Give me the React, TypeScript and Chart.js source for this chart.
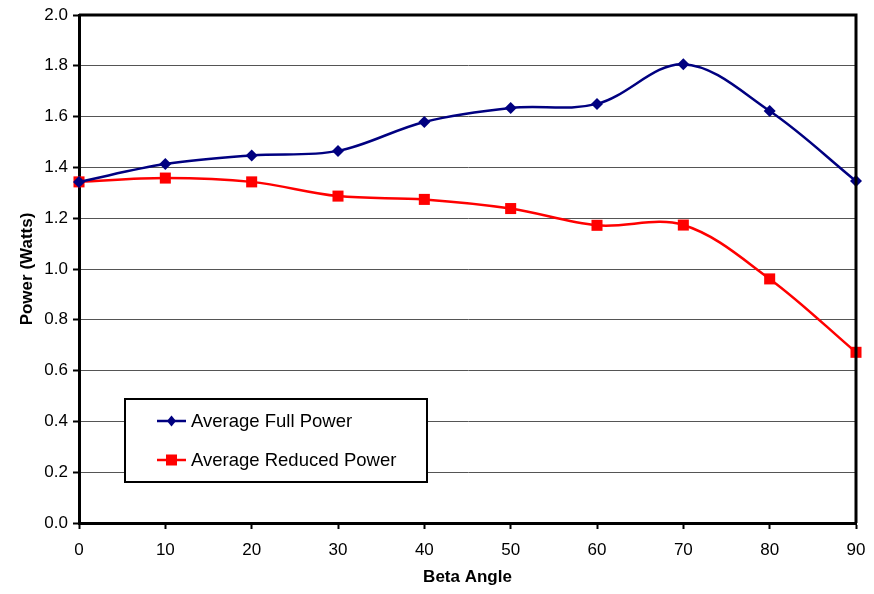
import React, { useEffect, useRef } from "react";
import { Chart, registerables } from "chart.js";

Chart.register(...registerables);

const betaAngles = [0, 10, 20, 30, 40, 50, 60, 70, 80, 90];
const fullPower = [1.343, 1.413, 1.447, 1.465, 1.579, 1.634, 1.65, 1.806, 1.622, 1.346];
const reducedPower = [1.343, 1.358, 1.343, 1.287, 1.274, 1.238, 1.172, 1.173, 0.961, 0.672];
const seriesNames = ["Average Full Power", "Average Reduced Power"];
const xTitle = "Beta Angle";
const yTitle = "Power (Watts)";

const FONT = "'Liberation Sans', Arial, sans-serif";

const decorPlugin = {
  id: "decor",
  afterDraw(chart: any) {
    const { ctx, chartArea } = chart;
    const { left, right, top, bottom } = chartArea;
    ctx.save();
    // top and right border
    ctx.strokeStyle = "#000";
    ctx.lineWidth = 3;
    ctx.beginPath();
    ctx.moveTo(left, top);
    ctx.lineTo(right, top);
    ctx.lineTo(right, bottom);
    ctx.stroke();
    // axis titles
    ctx.fillStyle = "#000";
    ctx.font = `bold 17px ${FONT}`;
    ctx.textAlign = "center";
    ctx.textBaseline = "middle";
    ctx.fillText(xTitle, (left + right) / 2, 577);
    ctx.save();
    ctx.translate(27, (top + bottom) / 2);
    ctx.rotate(-Math.PI / 2);
    ctx.fillText(yTitle, 0, 0);
    ctx.restore();
    // legend
    const bx = left + 46;
    const by = 399;
    const bw = 302;
    const bh = 83;
    ctx.fillStyle = "#fff";
    ctx.fillRect(bx, by, bw, bh);
    ctx.strokeStyle = "#000";
    ctx.lineWidth = 2;
    ctx.strokeRect(bx, by, bw, bh);
    const ds = chart.data.datasets;
    const rows = [by + 22, by + 61];
    ds.forEach((d: any, i: number) => {
      const y = rows[i];
      const x0 = bx + 32;
      const x1 = bx + 61;
      ctx.strokeStyle = d.borderColor;
      ctx.lineWidth = 2.5;
      ctx.beginPath();
      ctx.moveTo(x0, y);
      ctx.lineTo(x1, y);
      ctx.stroke();
      ctx.fillStyle = d.borderColor;
      const cx = (x0 + x1) / 2;
      if (d.pointStyle === "rectRot") {
        ctx.beginPath();
        ctx.moveTo(cx, y - 5.5);
        ctx.lineTo(cx + 4.5, y);
        ctx.lineTo(cx, y + 5.5);
        ctx.lineTo(cx - 4.5, y);
        ctx.closePath();
        ctx.fill();
      } else {
        ctx.fillRect(cx - 5.5, y - 5.5, 11, 11);
      }
      ctx.fillStyle = "#000";
      ctx.font = `18.5px ${FONT}`;
      ctx.textAlign = "left";
      ctx.textBaseline = "middle";
      ctx.fillText(d.label, x1 + 5, y + 1);
    });
    ctx.restore();
  },
};

export default function App() {
  const ref = useRef<HTMLCanvasElement>(null);
  useEffect(() => {
    const canvas = ref.current!;
    const chart = new Chart(canvas, {
      type: "line",
      data: {
        datasets: [
          {
            label: seriesNames[0],
            data: betaAngles.map((x, i) => ({ x, y: fullPower[i] })),
            borderColor: "#000080",
            backgroundColor: "#000080",
            pointStyle: "rectRot",
            pointRadius: 6,
            pointBorderWidth: 0,
            borderWidth: 2.5,
            tension: 0.35,
            clip: false as any,
          },
          {
            label: seriesNames[1],
            data: betaAngles.map((x, i) => ({ x, y: reducedPower[i] })),
            borderColor: "#FF0000",
            backgroundColor: "#FF0000",
            pointStyle: "rect",
            pointRadius: 7.8,
            pointBorderWidth: 0,
            borderWidth: 2.5,
            tension: 0.35,
            clip: false as any,
          },
        ],
      },
      options: {
        animation: false,
        responsive: false,
        layout: { autoPadding: false, padding: { top: 15, right: 18, left: 0, bottom: 0 } },
        plugins: { legend: { display: false }, tooltip: { enabled: false } },
        scales: {
          x: {
            type: "linear",
            min: 0,
            max: 90,
            afterFit: (s: any) => {
              s.height = 71;
              s.paddingLeft = 0;
              s.paddingRight = 0;
            },
            ticks: {
              stepSize: 10,
              color: "#000",
              font: { family: FONT, size: 17 },
              padding: 11,
              maxRotation: 0,
            },
            grid: {
              drawOnChartArea: false,
              drawTicks: true,
              tickLength: 6,
              tickWidth: 2,
              tickColor: "#000",
            },
            border: { display: true, color: "#000", width: 3 },
          },
          y: {
            min: 0,
            max: 2,
            afterFit: (s: any) => {
              s.width = 79;
              s.paddingTop = 0;
              s.paddingBottom = 0;
            },
            ticks: {
              stepSize: 0.2,
              color: "#000",
              font: { family: FONT, size: 17 },
              padding: 5,
              callback: (v: any) => Number(v).toFixed(1),
            },
            grid: {
              color: "#555",
              lineWidth: 1,
              drawTicks: true,
              tickLength: 6,
              tickWidth: 2,
              tickColor: "#000",
            },
            border: { display: true, color: "#000", width: 3 },
          },
        },
      },
      plugins: [decorPlugin],
    });
    return () => chart.destroy();
  }, []);
  return (
    <div style={{ position: "fixed", left: 0, top: 0, width: 874, height: 594, background: "#fff" }}>
      <canvas ref={ref} width={874} height={594} style={{ width: 874, height: 594 }} />
    </div>
  );
}
